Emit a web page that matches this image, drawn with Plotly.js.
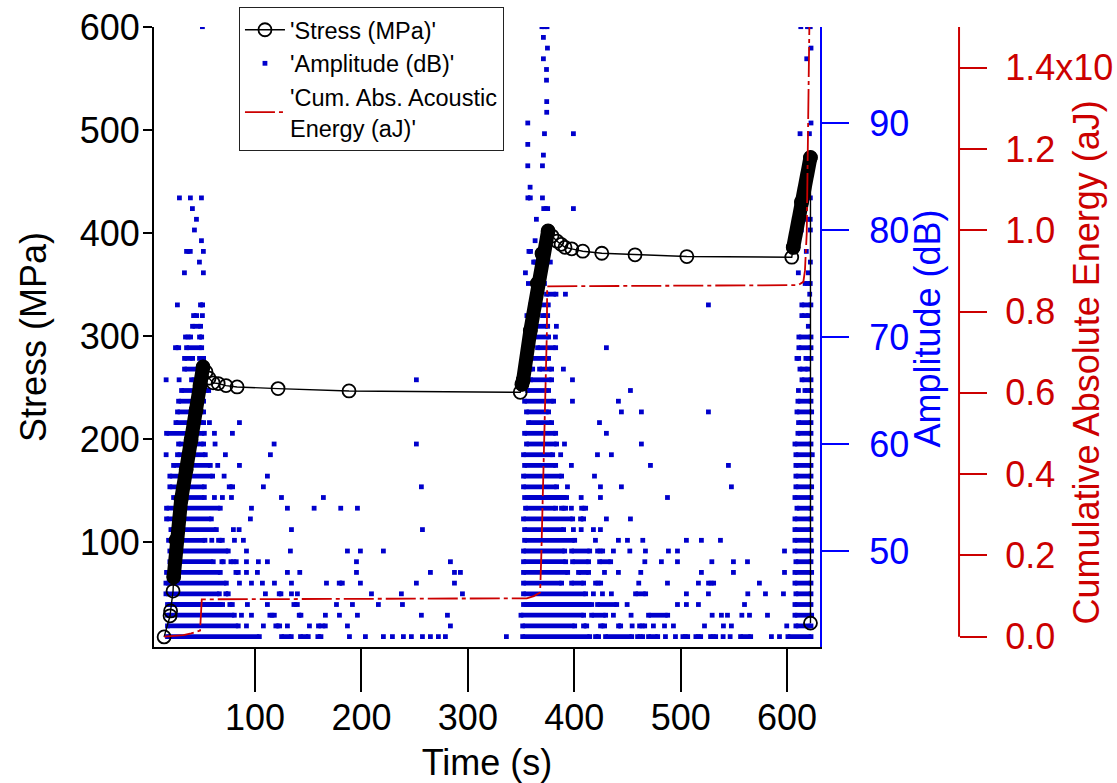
<!DOCTYPE html>
<html><head><meta charset="utf-8">
<script src="https://cdn.plot.ly/plotly-3.0.1.min.js"></script>
<style>html,body{margin:0;padding:0;background:#fff}</style>
</head><body><div id="chart" style="width:1117px;height:783px"></div>
<script>
// ---- Stress (MPa) vs time (s) ----
const stressTime = [14.5,20.1,20.6,22.9,23.5,25.8,30.5,35.2,39.8,44.5,48.3,51.1,53.9,56.8,60.5,65.3,72.7,83.1,121.6,188.3,349.2,
  350.8,351.9,358.7,365.3,369.7,375.4,379.1,383.8,387.6,391.3,397.6,408.0,425.9,457.1,505.8,604.4,605.8,613.5,622.0,622.0];
const stressMPa = [7.8,28.3,33,52.3,66,102,141,170,199,228,252,270,265,259,254.5,253.8,251.8,250.5,248.9,246.6,245.3,
  253,257,305,351,380,402,397,392,389,386.1,384.6,382.3,380.3,378.8,377.1,376.5,386,430,473.4,21.2];
// densely sampled loading ramps (drawn as a solid band of overlapping circles)
const rampTime = [23.5,25.8,30.5,35.2,39.8,44.5,48.3,51.1,null,350.8,351.9,358.7,365.3,369.7,375.4,null,605.8,613.5,622.0];
const rampMPa  = [66,102,141,170,199,228,252,270,null,253,257,305,351,380,402,null,386,430,473.4];

// ---- Cumulative absolute acoustic energy (aJ, axis units) ----
const energyTime = [14.5,20,32.6,40,48.3,49.9,200,355.4,362,367.9,369.0,371.5,374.3,374.5,500,610.6,615.3,616.8,618.5,620.0,621.0,621.2];
const energyAJ   = [0.0,0.001,0.004,0.008,0.015,0.092,0.093,0.0945,0.1,0.109,0.197,0.45,0.754,0.862,0.864,0.865,0.873,0.9,0.993,1.238,1.5,1.55];

// ---- Amplitude (dB): runs of contiguous hits [level, firstTime, lastTime] ----
const ampBars = [
[42,17.7,104],[42,124.9,134],[42,142.7,150],[42,159,161.9],[42,351.5,414.5],[42,420,422.9],[42,429.4,454],[42,459.5,464.3],[42,469.8,478.4],[42,502.1,506.6],[42,514.3,518.8],[42,528.1,532.9],[42,556.3,565.8],[42,600.8,622.5],
[43,17.7,84.2],[43,119.5,123.1],[43,159.6,166],[43,351.5,400.4],[43,408.7,411.7],[43,424.7,428.5],[43,441.6,443.6],[43,461.4,466.2],[43,608.3,622.5],
[44,17.7,80.5],[44,113.9,118.1],[44,141.5,143.1],[44,349.9,408.8],[44,416.3,429.5],[44,469.8,487.8],[44,607.4,623.1],
[45,17.7,69.5],[45,76.3,78.6],[45,136.5,139.7],[45,352.3,416.4],[45,421.9,439.9],[45,607.4,622.5],
[46,16.2,66.4],[46,72.5,74.8],[46,122.7,124.3],[46,352.3,410.7],[46,457.6,467.1],[46,608.3,622.5],
[47,16.2,73],[47,179.1,182],[47,352.3,388.1],[47,397.5,408.8],[47,420,424.8],[47,526.2,531],[47,607.4,622.5],
[48,16.8,67.3],[48,82,84.2],[48,352.3,393.8],[48,404,413.5],[48,607.4,623.1],
[49,19.9,60.7],[49,68.8,70.1],[49,77.3,82.3],[49,352.3,391.9],[49,398.4,413.5],[49,423.8,434.2],[49,608.3,622.5],
[50,19.9,74.8],[50,352.3,391],[50,397.5,414.5],[50,421.9,426.7],[50,607.4,623.1],
[51,18.7,52.9],[51,65.7,69.2],[51,353.3,400.4],[51,607.4,622.5],
[52,20.9,63.6],[52,353.3,390],[52,607.4,622.5],
[53,16.8,58.9],[53,352.3,398.5],[53,405.9,408.8],[53,607.4,622.5],
[54,16.8,67.3],[54,354.2,382.5],[54,388,391.9],[54,406.9,410.7],[54,609.3,622.5],
[55,23.4,52.3],[55,353.3,392.8],[55,607.4,622.5],
[56,19.9,52.3],[56,75.7,78.9],[56,352.3,383.4],[56,608.3,623.1],
[57,19.9,60.1],[57,352.3,388.1],[57,608.3,622.5],
[58,23.4,57.9],[58,353.3,382.5],[58,608.3,622.5],
[59,27.1,53.2],[59,352.3,379.7],[59,608.3,623.7],
[60,28.1,51.6],[60,355.1,383.4],[60,607.4,622.5],
[61,16.8,52.3],[61,353.3,382.5],[61,610.2,622.5],
[62,25.6,51.6],[62,357,378.7],[62,610.8,622.5],
[63,27.1,51.6],[63,355.1,375.9],[63,609.3,623.1],
[64,28.1,51.6],[64,353.3,380.6],[64,610.2,622.5],
[65,30.9,56.4],[65,356.1,375.9],[65,616.8,622.5],
[66,40.3,51.6],[66,358.9,378.7],[66,614,622.5],
[67,33.7,51.6],[67,356.1,360.9],[67,367.4,378.7],[67,612.1,619.4],
[68,33.7,41.3],[68,47.8,51.6],[68,357,375.9],[68,609.3,610.9],[68,617.7,622.5],
[69,25.2,28.2],[69,35.6,49.8],[69,365.5,382.5],[69,611.1,622.5],
[70,34.6,39.4],[70,47.8,49.8],[70,358.9,375.9],[70,611.1,622.5],
[71,41.2,48.8],[71,359.2,375],
[72,42.2,45.1],[72,355.5,361.8],[72,370.2,375],[72,613.9,620.2],
[73,48.7,50.7],[73,359.2,375.6],[73,613.9,622.4],
[74,373.9,382.8],
[75,370,372],[75,617,621.8],
[77,361.8,363],
[78,35.6,39.1],[78,357.4,358.9],
[81,613.9,621.8],
[82,371.3,375],
[83,356.4,358.7],
[86,619.2,621.8],
[99,369.6,374.4],[99,619.2,621.8]
];
// ---- Amplitude (dB): isolated hits [level, [times...]] ----
const ampPoints = [
[42,[188.7,203.7,220.6,229.1,239.4,246.9,257.3,264.8,272.3,278.9,336.2,485.7,495.1,539.9,546.5,585.3,592.9]],
[43,[91.9,107.8,130.4,151.1,186.8,283.6,454.4,474.4,484.8,493.2,522.4,540.2,547.7,599.7]],
[44,[87.2,96.6,166.1,179.3,196.2,256.3,280.8,436.8,453.4,529.6,538.3,544,557.5,564.7,581.6]],
[45,[92.8,111.6,176.5,191.5,215.9,238.5,449.7,497,505.4,516.7,560]],
[46,[109.7,134.2,139.8,209.4,237.5,294.9,418,426.5,434.9,505.4,526.1,563.1,579.7,596.6]],
[47,[85.3,96.6,106.9,118.2,134.2,167.1,199,251.6,287.4,460.6,487.6,516.7,574]],
[48,[91.9,102.2,130.4,142,195.3,264.8,287.4,293,428.4,441.5,462.5,519.5,549.6,597.6]],
[49,[91.9,103.1,111.6,195.3,283.6,466.3,481.9,497,529.3,549.6,562.8]],
[50,[91.9,133.2,186.8,199,220.6,436.8,452.2,466.9,488.5,497,597.6]],
[51,[59.3,80.6,89,419.9,441.5,450,464.4,505.4,519.5,537.4]],
[52,[79.6,85,134.2,257.3,399.2,406.5,418,424.6]],
[53,[95.6,430.2,452.8]],
[54,[96.6,130.4,155.5,180.5,196.2,397.3]],
[55,[61.8,69.3,77.8,124.8,164.2,406.5,424.6,487.6]],
[56,[107.8,256.3,393.6,424.6,444.3,547.7]],
[57,[70.9,111.6,419]],
[58,[64.9,85.3,397.3,471.6,544.9]],
[59,[16.4,72.1,114.4,387.2,421.8,434.9]],
[60,[62.4,117.9,251.6,390.8,463.1]],
[61,[61.8,78.7,430.2]],
[62,[57.1,85.3,423.7]],
[63,[444.3,463.1,526.1]],
[64,[398.3,441.5]],
[65,[452.8,610.7]],
[66,[16.4,28.6,251.6,352.8,398.3]],
[67,[389.8]],
[69,[356.9,430.2]],
[70,[382.3]],
[71,[383.2,620]],
[72,[50.5]],
[73,[27,526.1]],
[74,[391.7,621.3]],
[75,[356.9]],
[76,[33.6,51.4,354.1,370.5,610.6,620]],
[77,[47.7,371,377.5,621.9]],
[78,[51.4,618.1]],
[79,[49.6,363.2,375.7]],
[80,[43,374.8,613.4,621.9]],
[81,[44.9,364.4]],
[82,[41.1,399.2]],
[83,[28.9,39.2,49.6,370.1,621.9]],
[84,[358.5,619.4]],
[86,[356.3,370.1]],
[87,[371,620]],
[88,[356.3]],
[89,[372,399.2,612.2,621]],
[90,[356.3,622.5]],
[91,[374.1]],
[92,[374.1]],
[94,[373.9]],
[95,[373.9]],
[96,[371,618.5]],
[97,[374.8,622.5]],
[98,[371]],
[99,[50.5,612.9]]
];

// ---- axis ticks ----
const timeTicks = [100,200,300,400,500,600];
const stressTicks = [100,200,300,400,500,600];
const ampTicks = [50,60,70,80,90];
const energyTicks = [0,0.2,0.4,0.6,0.8,1.0,1.2,1.4];
const energyTickText = ['0.0','0.2','0.4','0.6','0.8','1.0','1.2','1.4x10'];

// build traces
const barX = [], barY = [];
ampBars.forEach(([a,t1,t2]) => { barX.push(t1,t2,null); barY.push(a,a,null); });
const ptX = [], ptY = [];
ampPoints.forEach(([a,ts]) => ts.forEach(t => { ptX.push(t); ptY.push(a); }));

const BLUE = '#0000cc', AXBLUE = '#0000ff', RED = '#cc0000';
const FONT = 'Liberation Sans, Arial, Helvetica, sans-serif';

const data = [
  {x:barX, y:barY, xaxis:'x', yaxis:'y', type:'scatter', mode:'lines+markers',
   line:{color:BLUE, width:4.8}, marker:{symbol:'square', size:4.8, color:BLUE},
   showlegend:false, hoverinfo:'skip'},
  {x:ptX, y:ptY, xaxis:'x', yaxis:'y', type:'scatter', mode:'markers',
   marker:{symbol:'square', size:4.8, color:BLUE}, name:"'Amplitude (dB)'", legendrank:2},
  {x:stressTime, y:stressMPa, xaxis:'x', yaxis:'y2', type:'scatter', mode:'lines+markers',
   line:{color:'#000', width:1.4}, marker:{symbol:'circle-open', size:13, color:'#000', line:{width:1.8, color:'#000'}},
   name:"'Stress (MPa)'", legendrank:1},
  {x:rampTime, y:rampMPa, xaxis:'x', yaxis:'y2', type:'scatter', mode:'lines+markers',
   line:{color:'#000', width:14}, marker:{symbol:'circle', size:14, color:'#000'},
   showlegend:false, hoverinfo:'skip'},
  {x:energyTime, y:energyAJ, xaxis:'x', yaxis:'y3', type:'scatter', mode:'lines',
   line:{color:RED, width:1.8, dash:'30px,4px,4px,4px'},
   name:"'Cum. Abs. Acoustic<br>Energy (aJ)'", legendrank:3}
];

const layout = {
  width:1117, height:783,
  margin:{l:154, r:20, t:27, b:136, pad:0, autoexpand:false},
  paper_bgcolor:'#fff', plot_bgcolor:'rgba(0,0,0,0)',
  font:{family:FONT, size:36, color:'#000'},
  showlegend:true,
  legend:{x:0.0901, y:1.0323, xanchor:'left', yanchor:'top', bgcolor:'#fff',
          bordercolor:'#222', borderwidth:1, font:{size:23.5, family:FONT, color:'#000'},
          tracegroupgap:0, itemwidth:40},
  xaxis:{domain:[0,0.7063], range:[5,631], tickvals:timeTicks, ticks:'outside', ticklen:43, tickwidth:2,
         tickcolor:'#000', showline:true, linewidth:2, linecolor:'#000', showgrid:false, zeroline:false,
         ticklabelstandoff:-5, tickfont:{size:36}, title:{text:'Time (s)', font:{size:36}, standoff:21}},
  yaxis:{side:'right', anchor:'x', range:[41.03,98.97], tickvals:ampTicks, ticks:'outside', ticklen:27, tickwidth:2,
         tickcolor:AXBLUE, showline:true, linewidth:2, linecolor:AXBLUE, showgrid:false, zeroline:false,
         ticklabelstandoff:13, tickfont:{size:36, color:AXBLUE}},
  yaxis2:{overlaying:'y', side:'left', anchor:'x', range:[-2,600], tickvals:stressTicks, ticks:'outside', ticklen:9, tickwidth:2,
         tickcolor:'#000', showline:true, linewidth:2, linecolor:'#000', showgrid:false, zeroline:false,
         ticklabelstandoff:-4, tickfont:{size:36, color:'#000'},
         title:{text:'Stress (MPa)', font:{size:36, color:'#000'}, standoff:22}},
  yaxis3:{overlaying:'y', side:'right', anchor:'free', position:0.8537, range:[-0.0253,1.5],
         tickvals:energyTicks, ticktext:energyTickText, ticks:'outside', ticklen:27, tickwidth:2,
         tickcolor:RED, showline:false, showgrid:false, zeroline:false,
         ticklabelstandoff:11, tickfont:{size:36, color:RED}},
  annotations:[
    {text:'Amplitude (dB)', xref:'paper', yref:'paper', x:0.8192, y:0.5129, xanchor:'center', yanchor:'middle',
     textangle:-90, showarrow:false, font:{size:36, color:AXBLUE, family:FONT}},
    {text:'Cumulative Absolute Energy (aJ)', xref:'paper', yref:'paper', x:0.9899, y:0.4597, xanchor:'center', yanchor:'middle',
     textangle:-90, showarrow:false, font:{size:36, color:RED, family:FONT}}
  ],
  shapes:[{type:'line', xref:'paper', yref:'y3', x0:0.8537, x1:0.8537, y0:0, y1:1.5,
           line:{color:RED, width:2}}]
};

Plotly.newPlot('chart', data, layout, {displayModeBar:false, staticPlot:true});
</script>
</body></html>
